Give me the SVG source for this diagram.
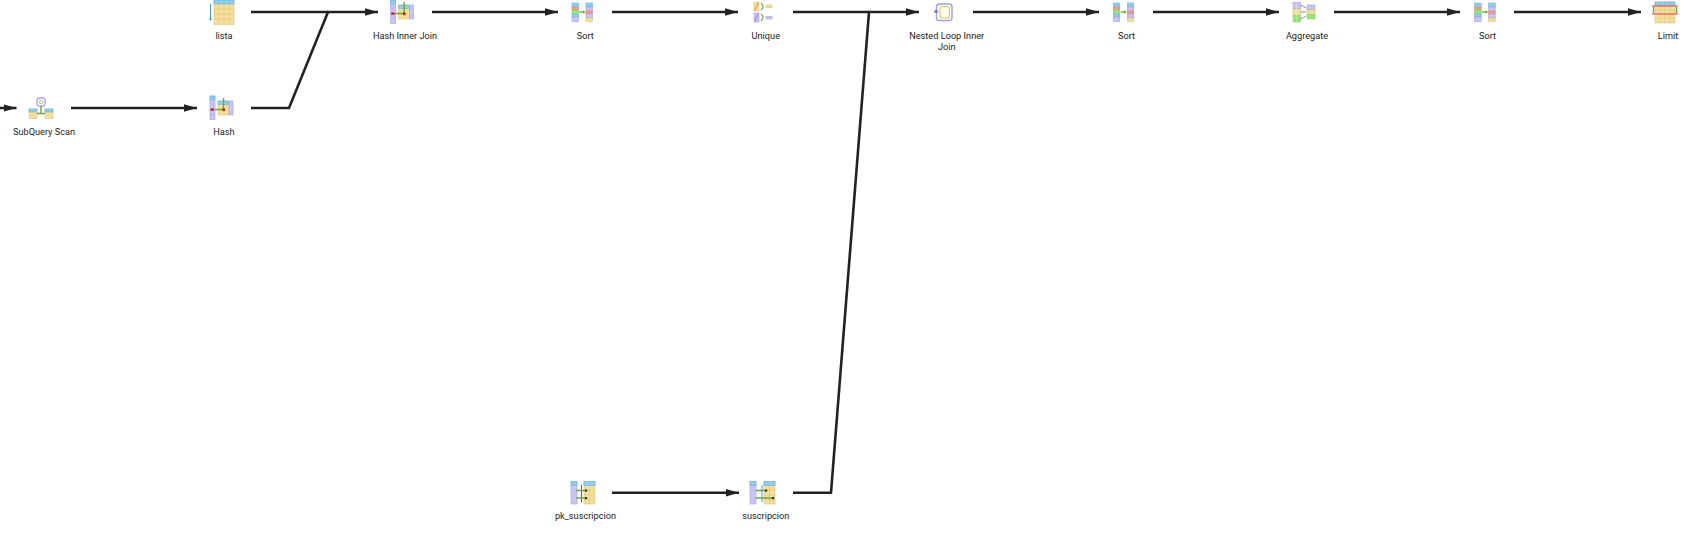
<svg xmlns="http://www.w3.org/2000/svg" width="1691" height="537" viewBox="0 0 1691 537">
<style>
.l{font-family:Roboto,"Liberation Sans",sans-serif;font-size:9.2px;fill:#222;text-anchor:middle}
.c{fill:none;stroke:#222;stroke-width:2.6;marker-end:url(#a)}
.p{fill:none;stroke:#222;stroke-width:2.6}
.bl{fill:#8fcdea;stroke:#6fb2d8;stroke-width:.6}
.la{fill:#c8c5f2;stroke:#a5a1e6;stroke-width:.6}
.ta{fill:#f2df9c;stroke:#d9c27a;stroke-width:.6}
.re{fill:#f29a92;stroke:#e88078;stroke-width:.5}
.gr{fill:#98e67a;stroke:#7fd05f;stroke-width:.5}
.gs{stroke:#6fa53a;stroke-width:1.4;fill:none}
.gy{stroke:#8a8f96;stroke-width:1;fill:none}
.grid{stroke:#d8c27c;stroke-width:.5;fill:none}
.lg{stroke:#a5a1e6;stroke-width:.5;fill:none}
</style>
<defs>
<marker id="a" markerUnits="userSpaceOnUse" markerWidth="13" markerHeight="8" refX="13" refY="4" orient="auto"><path d="M0 .3L13 4L0 7.7Z" fill="#222"/></marker>
<g id="sort">
<rect class="bl" x="0" y="3" width="6.5" height="4"/><rect class="re" x="0" y="7" width="6.5" height="3"/><rect class="gr" x="0" y="10" width="6.5" height="4"/><rect class="bl" x="0" y="14" width="6.5" height="3"/><rect class="la" x="0" y="17" width="6.5" height="4.5"/>
<rect class="bl" x="14" y="3" width="6.5" height="4"/><rect class="la" x="14" y="7" width="6.5" height="4"/><rect class="re" x="14" y="11" width="6.5" height="3"/><rect class="la" x="14" y="14" width="6.5" height="4"/><rect class="ta" x="14" y="18" width="6.5" height="3.5"/>
<path class="gs" d="M7.5 12H12"/><path d="M11 10.3L13.5 12L11 13.7Z" fill="#6fa53a"/>
</g>
</defs>
<g id="connectors">
<path class="c" d="M0 108H16.5"/>
<path class="c" d="M71 108H197"/>
<path class="p" d="M251 12H328"/>
<path class="c" d="M251 108H289L328 12H378"/>
<path class="c" d="M432 12H558"/>
<path class="c" d="M612 12H738"/>
<path class="p" d="M793 12H869"/>
<path class="c" d="M793 492.7H831L869 12H919"/>
<path class="c" d="M612 492.7H739"/>
<path class="c" d="M973 12H1099"/>
<path class="c" d="M1153 12H1279"/>
<path class="c" d="M1334 12H1460"/>
<path class="c" d="M1514 12H1641"/>
</g>
<g id="n-subquery">
<rect x="37" y="98" width="8" height="8" rx="2.5" fill="#fff" stroke="#bdb9ee" stroke-width="1.8"/><circle cx="41" cy="102" r="1.8" fill="none" stroke="#cdb860" stroke-width=".9"/>
<rect class="ta" x="29" y="109" width="8" height="9.5"/><rect class="bl" x="29" y="109" width="8" height="3"/>
<rect class="ta" x="45" y="109" width="8" height="9.5"/><rect class="bl" x="45" y="109" width="8" height="3"/>
<path class="gs" d="M41 106V113.5M37 113.5H45"/>
<text class="l" x="44" y="135">SubQuery Scan</text>
</g>
<g id="n-lista">
<rect class="ta" x="214" y="0" width="20" height="24.5"/><rect class="bl" x="214" y="0" width="20" height="4"/>
<path class="grid" d="M219 4V24M224 4V24M229 4V24M214 9H234M214 14H234M214 19H234"/>
<path d="M219 0V4M224 0V4M229 0V4" stroke="#6fb2d8" stroke-width=".5"/>
<path d="M210.5 4V20" stroke="#4a9ed6" stroke-width="1" fill="none"/><path d="M208.8 18.5H212.2L210.5 21Z" fill="#4a9ed6"/>
<text class="l" x="224" y="39">lista</text>
</g>
<g id="n-hash">
<rect class="la" x="210" y="96" width="5" height="23.5"/><rect class="bl" x="210" y="96" width="5" height="4"/>
<path class="lg" d="M210 104H215M210 114H215"/>
<rect class="ta" x="218" y="101" width="11" height="14"/><rect class="bl" x="218" y="101" width="11" height="3.5"/><rect class="la" x="229" y="101" width="4" height="14"/>
<path class="gs" d="M215 109.5H223.5V98"/>
<rect x="210.5" y="108.5" width="3.5" height="2.2" fill="#d11"/><rect x="222.3" y="108.5" width="2.6" height="2.6" fill="#d11"/>
<text class="l" x="224" y="135">Hash</text>
</g>
<g id="n-hashjoin">
<rect class="la" x="390.7" y="0" width="5" height="23.5"/><rect class="bl" x="390.7" y="0" width="5" height="4"/>
<path class="lg" d="M390.7 8H395.7M390.7 18H395.7"/>
<rect class="ta" x="398.7" y="5" width="11" height="14"/><rect class="bl" x="398.7" y="5" width="11" height="3.5"/><rect class="la" x="409.7" y="5" width="4" height="14"/>
<path class="gs" d="M395.7 13.5H404.2V2"/>
<rect x="391.2" y="12.5" width="3.5" height="2.2" fill="#d11"/><rect x="403" y="12.5" width="2.6" height="2.6" fill="#d11"/>
<text class="l" x="405" y="39">Hash Inner Join</text>
</g>
<use id="n-sort1" href="#sort" x="572"/>
<g id="l-sort1"><text class="l" x="585.3" y="39">Sort</text></g>
<g id="n-unique">
<rect class="ta" x="754" y="2" width="5" height="9"/><path d="M754.5 10.5L758.5 2.5" stroke="#e0805a" stroke-width=".9"/>
<rect class="la" x="754" y="13" width="5" height="9"/><path d="M754.5 21.5L758.5 13.5" stroke="#b870a8" stroke-width=".9"/>
<path d="M761 3Q765 6.5 761 10M761 14Q765 17.5 761 21" stroke="#6fa53a" stroke-width="1.1" fill="none"/>
<rect class="ta" x="766" y="5" width="6" height="2.6"/><rect class="la" x="766" y="16.4" width="6" height="2.6"/>
<text class="l" x="765.8" y="39">Unique</text>
</g>
<g id="n-nestedloop">
<rect x="936.5" y="4" width="15.5" height="16.5" rx="3" fill="#fff" stroke="#a29ee6" stroke-width="1.5"/>
<rect x="940" y="6.5" width="9.5" height="11.5" rx="2" fill="#fffbe8" stroke="#d8c470" stroke-width="1.1"/>
<path d="M936 9.5L938.5 12.5H933.5Z" fill="#5a70a8"/>
<text class="l" x="946.7" y="39">Nested Loop Inner</text>
<text class="l" x="946.7" y="50">Join</text>
</g>
<use id="n-sort2" href="#sort" x="1113.3"/>
<g id="l-sort2"><text class="l" x="1126.5" y="39">Sort</text></g>
<g id="n-aggregate">
<rect class="la" x="1293" y="2.5" width="7.5" height="6.5"/><rect class="ta" x="1293" y="9" width="7.5" height="6.5"/><rect class="gr" x="1293" y="15.5" width="7.5" height="6.5"/>
<path d="M1296.7 2.5V22" stroke="#fff" stroke-width=".4" opacity=".7"/>
<rect class="la" x="1307" y="5" width="8" height="5"/><rect class="ta" x="1307" y="10" width="8" height="4.5"/><rect class="gr" x="1307" y="14.5" width="8" height="4.5"/>
<path class="gy" d="M1300.5 5L1306 8M1300.5 12H1306M1300.5 19L1306 16"/>
<text class="l" x="1307" y="39">Aggregate</text>
</g>
<use id="n-sort3" href="#sort" x="1474.7"/>
<g id="l-sort3"><text class="l" x="1487.5" y="39">Sort</text></g>
<g id="n-limit">
<rect class="ta" x="1655" y="2" width="20" height="21"/><rect class="bl" x="1655" y="2" width="20" height="4"/>
<path class="grid" d="M1660 6V23M1665 6V23M1670 6V23M1655 10H1675M1655 18H1675"/>
<path d="M1660 2V6M1665 2V6M1670 2V6" stroke="#6fb2d8" stroke-width=".5"/>
<path class="gs" d="M1653.5 7V13M1676.5 7V13"/>
<path d="M1652 6H1678M1652 14H1678" stroke="#ec706a" stroke-width="1.3"/>
<text class="l" x="1668" y="39">Limit</text>
</g>
<g id="n-pk">
<rect class="la" x="571" y="481.5" width="6" height="22.5"/><rect class="bl" x="571" y="481.5" width="6" height="4"/>
<rect class="ta" x="584" y="481.5" width="11" height="22.5"/><rect class="bl" x="584" y="481.5" width="11" height="4"/>
<path class="grid" d="M589.5 485.5V504M584 490H595M584 495H595M584 500H595"/>
<path d="M581.5 485V502" stroke="#445" stroke-width=".9"/>
<path class="gs" d="M576 490.5H585M576 498H585"/>
<rect x="585" y="489.5" width="2.2" height="2.2" fill="#334"/><rect x="585" y="497" width="2.2" height="2.2" fill="#334"/>
<text class="l" x="585.5" y="519">pk_suscripcion</text>
</g>
<g id="n-suscripcion">
<rect class="la" x="750" y="481.5" width="6" height="22.5"/><rect class="bl" x="750" y="481.5" width="6" height="4"/>
<rect class="ta" x="764" y="481.5" width="11" height="22.5"/><rect class="bl" x="764" y="481.5" width="11" height="4"/>
<path class="grid" d="M769.5 485.5V504M764 490H775M764 495H775M764 500H775"/>
<path d="M762 485V502" stroke="#5aa0dc" stroke-width="1.1"/>
<path class="gs" d="M756 490.5H765M756 498H772"/>
<rect x="765" y="489.5" width="2.2" height="2.2" fill="#334"/><rect x="772" y="497" width="2.2" height="2.2" fill="#334"/>
<text class="l" x="765.8" y="519">suscripcion</text>
</g>
</svg>
